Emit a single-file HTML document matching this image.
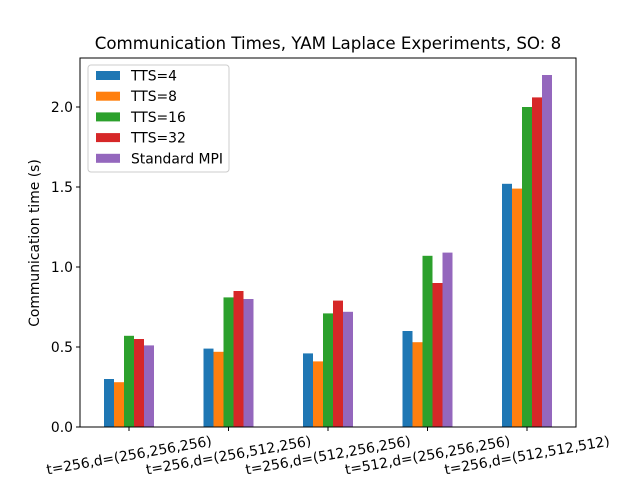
<!DOCTYPE html>
<html><head><meta charset="utf-8"><style>body{margin:0;background:#fff}svg{font-family:"DejaVu Sans","Liberation Sans",sans-serif}</style></head>
<body>
<svg id="chart" width="640" height="480">
<rect x="0" y="0" width="640" height="480" fill="#fff"/>
<text x="328" y="49" font-size="16.67" text-anchor="middle">Communication Times, YAM Laplace Experiments, SO: 8</text>
<g id="bars"></g>
<g id="axes"></g>
<text transform="translate(39,243) rotate(-90)" font-size="13.89" text-anchor="middle">Communication time (s)</text>
<g id="legend"></g>
</svg>
<script>
const categories=["t=256,d=(256,256,256)","t=256,d=(256,512,256)","t=256,d=(512,256,256)","t=512,d=(256,256,256)","t=256,d=(512,512,512)"];
const seriesNames=["TTS=4","TTS=8","TTS=16","TTS=32","Standard MPI"];
const tts4=[0.30,0.49,0.46,0.60,1.52];
const tts8=[0.28,0.47,0.41,0.53,1.49];
const tts16=[0.57,0.81,0.71,1.07,2.00];
const tts32=[0.55,0.85,0.79,0.90,2.06];
const mpi=[0.51,0.80,0.72,1.09,2.20];
const yTicks=[0.0,0.5,1.0,1.5,2.0];
const series=[tts4,tts8,tts16,tts32,mpi];
const colors=["#1f77b4","#ff7f0e","#2ca02c","#d62728","#9467bd"];
const NS="http://www.w3.org/2000/svg";
const L=80,R=576,T=58,B=427;
const y=v=>B-v*160;
const xc=i=>129+i*99.5;
const bw=10;
function mk(t,a,p){const e=document.createElementNS(NS,t);for(const k in a)e.setAttribute(k,a[k]);p.appendChild(e);return e;}
const bars=document.getElementById('bars');
series.forEach((s,si)=>{s.forEach((v,i)=>{
 const r=mk('rect',{x:xc(i)+(si-2.5)*bw,y:y(v),width:bw,height:B-y(v),fill:colors[si]},bars);
 
 
});});
const ax=document.getElementById('axes');
const fr=mk('rect',{x:L,y:T,width:R-L,height:B-T,fill:'none',stroke:'#000','stroke-width':1},ax);


yTicks.forEach(v=>{
 mk('line',{x1:L-4,x2:L,y1:y(v),y2:y(v),stroke:'#000'},ax);
 const t=mk('text',{x:L-7,y:y(v)+5,'font-size':13.89,'text-anchor':'end'},ax);
 t.textContent=v.toFixed(1);
 
 
});
categories.forEach((c,i)=>{
 mk('line',{x1:xc(i),x2:xc(i),y1:B,y2:B+4,stroke:'#000'},ax);
 const t=mk('text',{x:xc(i),y:B+33,'font-size':13.89,'text-anchor':'middle',transform:`rotate(-10 ${xc(i)} ${B+28})`},ax);
 t.textContent=c;
 
 
});
const lg=document.getElementById('legend');
mk('rect',{x:88,y:65,width:141,height:107,rx:3,fill:'#fff','fill-opacity':0.8,stroke:'#ccc'},lg);
seriesNames.forEach((n,i)=>{
 const yy=76+i*20.7;
 mk('rect',{x:96,y:yy-5,width:24,height:9,fill:colors[i]},lg);
 const t=mk('text',{x:131,y:yy+4.5,'font-size':13.89},lg);
 t.textContent=n;
 
 
});
</script>
</body></html>
